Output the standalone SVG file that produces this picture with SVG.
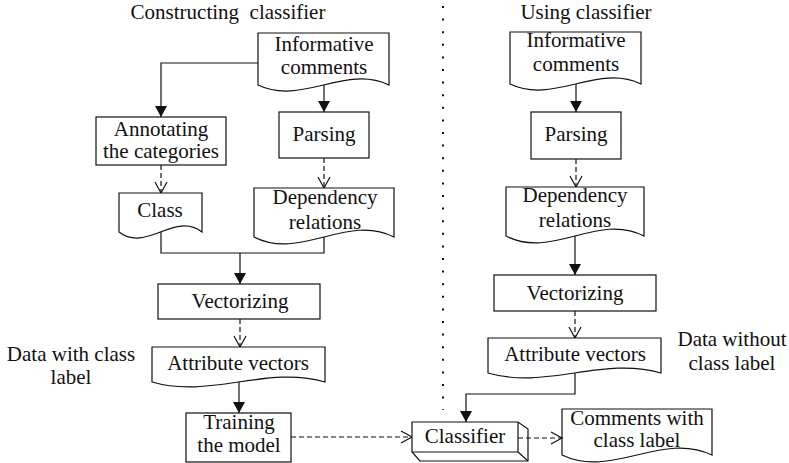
<svg xmlns="http://www.w3.org/2000/svg" width="789" height="463" viewBox="0 0 789 463">
<style>
.s{fill:#fff;stroke:#111;stroke-width:1.2}
.c{fill:none;stroke:#111;stroke-width:1.2}
.d{stroke-dasharray:5 3}
text{font-family:"Liberation Serif","Times New Roman",serif;font-size:21px;fill:#111;text-anchor:middle}
</style>
<defs>
<marker id="af" markerUnits="userSpaceOnUse" markerWidth="12" markerHeight="12" refX="11" refY="6" orient="auto">
<path d="M0,0 L11,6 L0,12 Z" fill="#111" stroke="none"/>
</marker>
<marker id="ao" markerUnits="userSpaceOnUse" markerWidth="14" markerHeight="14" refX="12" refY="7" orient="auto">
<path d="M1,1 L12,7 L1,13" fill="none" stroke="#111" stroke-width="1.2" stroke-dasharray="none"/>
</marker>
</defs>

<text x="228" y="19" xml:space="preserve">Constructing  classifier</text>
<text x="586" y="19">Using classifier</text>
<text x="71" y="361">Data with class</text>
<text x="71" y="384">label</text>
<text x="732" y="346">Data without</text>
<text x="732" y="370">class label</text>

<g id="connectors">
<path d="M443,6 V410" fill="none" stroke="#111" style="stroke-width:2;stroke-dasharray:2 10.6"/>
<path class="c" d="M258,63 H161 V117" marker-end="url(#af)"/>
<path class="c" d="M324,85 V112" marker-end="url(#af)"/>
<path class="c d" d="M161,165 V193" marker-end="url(#ao)"/>
<path class="c d" d="M324,158 V188" marker-end="url(#ao)"/>
<path class="c" d="M161,232 V253 H324 V237"/>
<path class="c" d="M240,253 V284" marker-end="url(#af)"/>
<path class="c d" d="M240,319 V347" marker-end="url(#ao)"/>
<path class="c" d="M239,382 V413" marker-end="url(#af)"/>
<path class="c d" d="M291,437 H412" marker-end="url(#ao)"/>
<path class="c" d="M576,84 V112" marker-end="url(#af)"/>
<path class="c d" d="M576,159 V187" marker-end="url(#ao)"/>
<path class="c" d="M575,236 V275" marker-end="url(#af)"/>
<path class="c d" d="M575,311 V338" marker-end="url(#ao)"/>
<path class="c" d="M575,373 V394 H466 V422" marker-end="url(#af)"/>
</g>

<g id="info-left">
<path class="s" d="M258,33 H389 V85 C345.3,64 301.7,106 258,85 Z"/>
<text x="324" y="51">Informative</text>
<text x="324" y="74">comments</text>
</g>
<g id="annotating">
<rect class="s" x="96" y="117" width="130" height="48"/>
<text x="161" y="136">Annotating</text>
<text x="161" y="158">the categories</text>
</g>
<g id="parsing-left">
<rect class="s" x="279" y="112" width="90" height="46"/>
<text x="324" y="141">Parsing</text>
</g>
<g id="class">
<path class="s" d="M119,193 H202 V232 C174.3,211 146.7,253 119,232 Z"/>
<text x="160" y="217">Class</text>
</g>
<g id="dependency-left">
<path class="s" d="M254,188 H394 V237 C347.3,213 300.7,261 254,237 Z"/>
<text x="325" y="204">Dependency</text>
<text x="325" y="229">relations</text>
</g>
<g id="vectorizing-left">
<rect class="s" x="158" y="284" width="162" height="35"/>
<text x="240" y="308">Vectorizing</text>
</g>
<g id="attribute-left">
<path class="s" d="M152,347 H325 V382 C267.3,365 209.7,399 152,382 Z"/>
<text x="238" y="370">Attribute vectors</text>
</g>
<g id="training">
<rect class="s" x="186" y="413" width="105" height="49"/>
<text x="239" y="429">Training</text>
<text x="239" y="452">the model</text>
</g>

<g id="info-right">
<path class="s" d="M510,32 H641 V84 C597.3,63 553.7,105 510,84 Z"/>
<text x="576" y="47">Informative</text>
<text x="576" y="71">comments</text>
</g>
<g id="parsing-right">
<rect class="s" x="531" y="112" width="90" height="47"/>
<text x="576" y="141">Parsing</text>
</g>
<g id="dependency-right">
<path class="s" d="M506,187 H644 V236 C598,212 552,260 506,236 Z"/>
<text x="575" y="202">Dependency</text>
<text x="575" y="227">relations</text>
</g>
<g id="vectorizing-right">
<rect class="s" x="494" y="275" width="162" height="36"/>
<text x="575" y="300">Vectorizing</text>
</g>
<g id="attribute-right">
<path class="s" d="M488,338 H661 V373 C603.3,356 545.7,390 488,373 Z"/>
<text x="575" y="361">Attribute vectors</text>
</g>
<g id="classifier">
<path class="s" d="M412,422 H518 L528,429 V461 H420 L412,452 Z"/>
<path class="c" d="M518,422 V452 H412 M518,452 L528,461"/>
<text x="465" y="443">Classifier</text>
</g>
<g id="comments-out">
<path class="s" d="M562,409 H712 V455 C662,431 612,479 562,455 Z"/>
<text x="637" y="425">Comments with</text>
<text x="637" y="447">class label</text>
</g>
<path class="c d" d="M518,438 H562" marker-end="url(#ao)"/>
</svg>
